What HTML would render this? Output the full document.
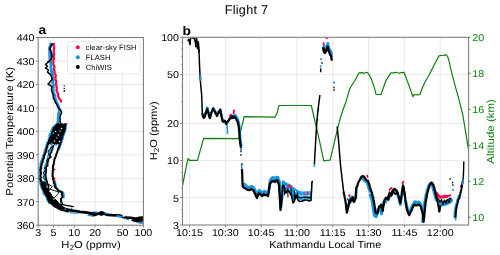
<!DOCTYPE html>
<html><head><meta charset="utf-8"><style>
html,body{margin:0;padding:0;background:#fff;width:500px;height:255px;overflow:hidden;font-family:"Liberation Sans",sans-serif;}
svg{display:block;will-change:transform;text-rendering:geometricPrecision}
</style></head><body>
<svg width="500" height="255" viewBox="0 0 500 255"><line x1="53.5" y1="37.5" x2="53.5" y2="225.2" stroke="#e6e6e6" stroke-width="0.9"/>
<line x1="74.3" y1="37.5" x2="74.3" y2="225.2" stroke="#e6e6e6" stroke-width="0.9"/>
<line x1="95.1" y1="37.5" x2="95.1" y2="225.2" stroke="#e6e6e6" stroke-width="0.9"/>
<line x1="122.6" y1="37.5" x2="122.6" y2="225.2" stroke="#e6e6e6" stroke-width="0.9"/>
<line x1="38.2" y1="201.7" x2="143.4" y2="201.7" stroke="#e6e6e6" stroke-width="0.9"/>
<line x1="38.2" y1="178.3" x2="143.4" y2="178.3" stroke="#e6e6e6" stroke-width="0.9"/>
<line x1="38.2" y1="154.8" x2="143.4" y2="154.8" stroke="#e6e6e6" stroke-width="0.9"/>
<line x1="38.2" y1="131.3" x2="143.4" y2="131.3" stroke="#e6e6e6" stroke-width="0.9"/>
<line x1="38.2" y1="107.9" x2="143.4" y2="107.9" stroke="#e6e6e6" stroke-width="0.9"/>
<line x1="38.2" y1="84.4" x2="143.4" y2="84.4" stroke="#e6e6e6" stroke-width="0.9"/>
<line x1="38.2" y1="61.0" x2="143.4" y2="61.0" stroke="#e6e6e6" stroke-width="0.9"/>
<line x1="189.5" y1="37.3" x2="189.5" y2="225.0" stroke="#e6e6e6" stroke-width="0.9"/>
<line x1="225.3" y1="37.3" x2="225.3" y2="225.0" stroke="#e6e6e6" stroke-width="0.9"/>
<line x1="261.1" y1="37.3" x2="261.1" y2="225.0" stroke="#e6e6e6" stroke-width="0.9"/>
<line x1="296.9" y1="37.3" x2="296.9" y2="225.0" stroke="#e6e6e6" stroke-width="0.9"/>
<line x1="332.8" y1="37.3" x2="332.8" y2="225.0" stroke="#e6e6e6" stroke-width="0.9"/>
<line x1="368.6" y1="37.3" x2="368.6" y2="225.0" stroke="#e6e6e6" stroke-width="0.9"/>
<line x1="404.4" y1="37.3" x2="404.4" y2="225.0" stroke="#e6e6e6" stroke-width="0.9"/>
<line x1="440.2" y1="37.3" x2="440.2" y2="225.0" stroke="#e6e6e6" stroke-width="0.9"/>
<line x1="182.5" y1="197.7" x2="468.6" y2="197.7" stroke="#e6e6e6" stroke-width="0.9"/>
<line x1="182.5" y1="160.6" x2="468.6" y2="160.6" stroke="#e6e6e6" stroke-width="0.9"/>
<line x1="182.5" y1="123.5" x2="468.6" y2="123.5" stroke="#e6e6e6" stroke-width="0.9"/>
<line x1="182.5" y1="74.4" x2="468.6" y2="74.4" stroke="#e6e6e6" stroke-width="0.9"/>
<defs><clipPath id="cl"><rect x="38.20" y="37.50" width="105.20" height="187.70"/></clipPath><clipPath id="cr"><rect x="182.50" y="37.30" width="286.10" height="187.70"/></clipPath></defs><g clip-path="url(#cl)">
<polyline points="54.0,44.0 53.7,45.5 54.2,47.0 54.1,48.5 53.8,50.0 53.7,51.5 54.0,53.0 54.1,54.5 53.8,56.0 54.1,57.5 54.0,59.0 53.1,60.5 53.6,62.0 52.8,63.5 53.6,65.0 54.4,66.5 54.2,68.0 54.0,69.5 54.6,71.0 54.4,72.5 55.0,74.0 55.9,75.5 55.3,77.0 55.4,78.5 55.6,80.0 56.3,81.5 56.0,83.0 56.2,84.5 56.4,86.0 56.8,87.5 56.8,89.0 56.4,90.5 57.2,92.0 57.7,93.3 58.3,94.7 58.0,96.0 58.8,97.5 59.5,99.0 60.6,100.2 61.0,101.5" fill="none" stroke="#f50c4c" stroke-width="2.30" stroke-linejoin="round" stroke-linecap="round" />
<polyline points="50.8,44.0 50.5,45.5 49.8,47.0 49.2,48.5 49.6,50.0 49.9,51.5 49.6,53.0 49.8,54.5 49.8,56.0 49.8,57.5 50.2,59.0 49.8,60.5 50.6,62.0 51.1,63.5 50.8,65.0 50.9,66.5 51.0,68.0 51.4,69.5 51.3,71.0 52.1,72.5 52.0,74.0 52.4,75.3 52.8,76.7 52.5,78.0 52.5,79.3 53.1,80.7 52.8,82.0 52.8,83.3 53.5,84.7 53.0,86.0 53.6,87.3 52.7,88.7 53.3,90.0 53.1,91.3 53.4,92.7 54.0,94.0 55.0,95.5 54.8,97.0 55.2,98.3 55.9,99.7 56.2,101.0 56.6,102.5 57.5,104.0 58.0,105.3 58.4,106.7 59.0,108.0 59.1,109.5 59.5,111.0 59.1,112.5 58.5,114.0 58.4,115.3 58.7,116.7 58.0,118.0 58.2,119.3 58.4,120.7 57.8,122.0 58.2,123.3 58.4,124.7 57.8,126.0" fill="none" stroke="#1597df" stroke-width="2.90" stroke-linejoin="round" stroke-linecap="round" />
<polyline points="52.2,44.0 51.6,45.2 50.8,46.5 50.2,48.0 50.0,49.5 50.7,50.8 51.0,52.0 51.6,53.5 51.7,55.0 52.0,56.5 51.8,58.0 50.5,60.0 49.3,61.0 48.0,62.0" fill="none" stroke="#000" stroke-width="1.80" stroke-linejoin="round" stroke-linecap="round" />
<polyline points="48.0,62.0 46.9,63.2 45.5,64.5 46.3,65.2 47.5,66.0 46.8,67.0 45.5,68.0 46.6,68.7 47.3,69.3 48.5,70.0 47.5,72.0 48.4,73.0 50.0,74.0 51.0,75.5 51.5,77.0 52.1,78.5 52.0,80.0 50.7,81.0 50.0,82.0 49.2,83.0 48.0,84.0 49.2,84.8 50.5,85.5 52.0,87.0 51.5,88.5 51.5,90.0 51.8,91.5 52.5,93.0 52.9,94.3 53.3,95.7 53.2,97.0 53.4,98.3 54.5,99.7 55.0,101.0 55.4,102.5 56.5,104.0 57.3,105.5 57.8,107.0 58.8,108.2 60.0,109.5 61.1,110.8 61.5,112.0 61.4,113.5 60.5,115.0 60.2,116.5 59.8,118.0 60.3,119.5 60.0,121.0 60.3,122.2 61.0,123.5" fill="none" stroke="#000" stroke-width="1.50" stroke-linejoin="round" stroke-linecap="round" />
<polyline points="56.6,124.0 55.2,124.9 55.0,125.8 53.4,126.8 52.7,127.7 52.2,128.6 51.6,130.1 51.3,131.5 50.6,133.0 49.8,134.2 49.2,135.5 49.8,136.7 48.7,138.0 48.5,139.2 48.6,140.4 48.1,141.6 47.0,142.8 46.7,144.0 46.3,145.2 46.0,146.3 45.8,147.5 45.4,148.6 44.9,149.8 44.5,151.1 44.2,152.4 44.2,153.7 43.2,155.0 42.8,156.3 42.3,157.7 42.2,159.1 41.5,160.4 40.8,161.9 40.4,163.5 40.2,165.0 40.6,166.2 39.8,167.4 39.7,168.6 38.8,169.8 39.2,171.0 39.1,172.2 39.2,173.5 38.5,174.8 39.1,176.0 39.4,177.4 39.6,178.8 39.0,180.2 39.7,181.6 40.2,182.9 40.4,184.3 41.0,185.7 41.2,187.0 41.5,188.3 42.4,189.6 43.0,190.9 43.2,192.2 43.4,193.4 44.2,194.6 45.7,195.8 46.2,197.0 47.3,198.2 46.9,199.3 47.6,200.5 48.3,201.6 48.7,202.8" fill="none" stroke="#1597df" stroke-width="1.80" stroke-linejoin="round" stroke-linecap="round" />
<polyline points="66.6,124.0 66.3,125.5 66.1,127.1 66.1,128.6 65.4,130.1 65.0,131.5 64.6,133.0 64.3,134.2 63.6,135.5 63.3,136.7 63.3,138.0 62.6,139.2 61.8,140.4 61.9,141.6 61.7,142.8 61.1,144.0 60.5,145.2 60.0,146.3 60.2,147.5 59.2,148.6 59.1,149.8" fill="none" stroke="#1597df" stroke-width="1.60" stroke-linejoin="round" stroke-linecap="round" />
<polyline points="55.3,182.1 55.2,183.4 55.7,184.8 56.2,186.2 56.3,187.5 56.9,188.7 58.2,189.8 59.4,191.0 60.5,191.6 62.3,192.1 63.3,192.7 63.4,193.9 63.9,195.1 63.3,196.3 63.8,197.5" fill="none" stroke="#1597df" stroke-width="2.00" stroke-linejoin="round" stroke-linecap="round" />
<polyline points="54.0,139.0 53.4,140.2 53.3,141.5 53.2,142.8 52.3,144.0 51.9,145.2 51.3,146.4 50.8,147.6 50.9,148.8 50.5,150.0 49.7,151.2 50.0,152.5 49.6,153.8 48.7,155.0 47.9,156.3 47.5,157.7 47.7,159.1 46.9,160.4 46.7,161.6 46.6,162.7 45.7,163.8 45.5,165.0 44.9,166.2 44.9,167.4 45.3,168.6 44.4,169.8 44.5,171.0 44.3,172.2 44.3,173.5 44.3,174.8 44.3,176.0 44.5,177.4 45.4,178.8 44.8,180.2 45.5,181.6 45.3,182.9 46.8,184.3 47.1,185.7 47.0,187.0 47.7,188.2 47.2,189.5 47.9,190.8 47.5,192.0 48.6,193.2 48.4,194.5 49.7,195.8 50.0,197.0 51.3,198.0 51.9,199.0 52.6,200.0 53.5,201.0 54.4,202.0 55.6,203.0 57.0,204.0 57.8,205.0 58.8,206.0 60.5,207.0" fill="none" stroke="#1597df" stroke-width="1.60" stroke-linejoin="round" stroke-linecap="round" />
<polygon points="58.0,124.0 53.6,128.6 52.0,133.0 49.9,139.2 48.1,144.0 59.9,144.0 61.4,139.2 63.4,133.0 64.9,128.6 65.4,124.0" fill="#000" stroke="#000" stroke-width="0.8" stroke-linejoin="round"/>
<polygon points="41.1,181.6 42.6,187.0 44.6,192.2 47.6,197.0 50.1,202.8 53.5,205.5 57.5,208.0 62.0,210.0 60.0,207.0 59.0,203.0 56.0,200.0 52.0,196.0 49.0,191.0 46.5,186.0 45.0,182.0" fill="#000" stroke="#000" stroke-width="0.8" stroke-linejoin="round"/>
<polyline points="58.0,124.0 57.2,124.9 56.0,125.8 55.7,126.8 54.0,127.7 53.6,128.6 53.5,130.1 52.7,131.5 52.0,133.0 52.0,134.2 51.6,135.5 51.1,136.7 50.4,138.0 49.9,139.2 49.0,140.4 49.2,141.6 48.2,142.8 48.1,144.0 47.5,145.2 47.5,146.3 47.0,147.5 46.6,148.6 46.3,149.8 46.3,151.1 45.6,152.4 44.9,153.7 44.6,155.0 43.9,156.3 44.1,157.7 43.3,159.1 42.9,160.4 42.7,161.9 41.9,163.5 41.6,165.0 41.1,166.2 41.2,167.4 41.3,168.6 40.5,169.8 40.6,171.0 40.9,172.2 41.0,173.5 40.8,174.8 40.5,176.0 41.0,177.4 40.3,178.8 41.1,180.2 41.1,181.6 41.8,182.9 41.4,184.3 42.0,185.7 42.6,187.0 42.9,188.3 43.6,189.6 44.0,190.9 44.6,192.2 45.3,193.4 46.4,194.6 46.4,195.8 47.6,197.0 47.7,198.2 48.2,199.3 48.7,200.5 49.2,201.6 50.1,202.8 51.7,203.7 52.7,204.6 53.5,205.5 54.4,206.3 56.2,207.2 57.5,208.0 58.4,208.5 59.6,209.0 60.7,209.5 62.0,210.0 63.3,210.3 64.5,210.6 65.5,210.9 66.5,211.2 68.0,211.5" fill="none" stroke="#000" stroke-width="2.00" stroke-linejoin="round" stroke-linecap="round" />
<polyline points="65.4,124.0 65.1,125.5 64.7,127.1 64.9,128.6 64.5,130.1 64.1,131.5 63.4,133.0 62.9,134.2 62.2,135.5 61.9,136.7 61.7,138.0 61.4,139.2 61.1,140.4 60.9,141.6 60.2,142.8 59.9,144.0 59.8,145.2 59.2,146.3 58.6,147.5 58.2,148.6 57.9,149.8 57.4,151.1 57.2,152.4 56.5,153.7 56.1,155.0 55.8,156.3 55.2,157.7 54.5,159.1 54.3,160.4 54.0,161.9 53.9,163.5 53.4,165.0 52.8,166.2 53.0,167.4 52.8,168.6 53.1,169.8 52.6,171.0 53.0,172.2 52.4,173.5 52.8,174.8 52.4,176.0 53.1,177.4 52.9,178.8 53.5,180.2 53.9,181.6 53.8,182.9 54.7,184.3 54.8,185.7 54.9,187.0 56.3,188.2 57.3,189.3 58.0,190.5 59.5,191.1 60.8,191.6 61.9,192.2 62.1,193.4 61.8,194.6 62.4,195.8 62.4,197.0 61.2,198.5 61.0,200.0 61.1,201.5 62.0,203.0 61.8,204.5 61.0,206.0 60.0,207.5 60.0,209.0" fill="none" stroke="#000" stroke-width="2.00" stroke-linejoin="round" stroke-linecap="round" />
<polyline points="61.0,125.0 59.9,126.3 59.3,127.7 59.0,129.0 58.9,130.3 57.7,131.7 57.5,133.0 56.6,134.2 57.0,135.4 55.9,136.6 56.2,137.8 55.5,139.0 55.2,140.2 55.0,141.5 54.7,142.8 53.8,144.0 53.5,145.2 53.4,146.4 52.3,147.6 52.6,148.8 52.0,150.0 51.6,151.2 51.3,152.5 50.3,153.8 50.2,155.0 50.0,156.3 49.7,157.7 48.4,159.1 48.4,160.4 47.9,161.6 47.8,162.7 47.7,163.8 47.0,165.0 46.5,166.2 46.3,167.4 46.1,168.6 46.3,169.8 46.0,171.0 46.2,172.2 45.8,173.5 45.7,174.8 45.8,176.0 46.0,177.4 46.3,178.8 46.6,180.2 47.0,181.6 47.0,182.9 47.8,184.3 48.6,185.7 48.5,187.0 48.5,188.2 49.0,189.5 48.5,190.8 49.0,192.0 49.8,193.2 50.5,194.5 51.0,195.8 51.5,197.0 52.4,198.0 53.2,199.0 54.3,200.0 55.0,201.0 56.6,202.0 57.0,203.0 58.5,204.0 59.3,205.0 61.1,206.0 62.0,207.0 63.4,207.8 64.0,208.7 65.0,209.5" fill="none" stroke="#000" stroke-width="1.60" stroke-linejoin="round" stroke-linecap="round" />
<polyline points="52.4,147.0 48.8,149.8 48.2,152.1 48.5,154.7 51.7,156.9 46.6,160.1 47.1,162.9 48.3,165.9 43.9,168.2 46.5,170.1 43.0,172.5 44.5,174.9 42.8,177.8 47.1,181.0 47.6,183.6 52.3,186.6 49.9,189.2 58.8,192.1 57.6,194.5 54.6,197.6 52.0,199.8 57.9,202.7" fill="none" stroke="#000" stroke-width="0.90" stroke-linejoin="round" stroke-linecap="round" />
<circle cx="56.8" cy="138.0" r="0.9" fill="#1597df"/>
<circle cx="53.2" cy="133.0" r="0.9" fill="#1597df"/>
<circle cx="60.0" cy="131.0" r="0.9" fill="#1597df"/>
<circle cx="51.6" cy="143.5" r="0.9" fill="#1597df"/>
<circle cx="56.2" cy="145.0" r="0.9" fill="#1597df"/>
<circle cx="58.5" cy="135.0" r="0.75" fill="#fff"/>
<circle cx="54.5" cy="141.0" r="0.75" fill="#fff"/>
<circle cx="47.0" cy="187.0" r="0.75" fill="#fff"/>
<circle cx="50.0" cy="191.5" r="0.75" fill="#fff"/>
<circle cx="54.0" cy="199.0" r="0.75" fill="#fff"/>
<circle cx="61.5" cy="128.5" r="0.75" fill="#fff"/>
<circle cx="55.6" cy="131.5" r="0.75" fill="#fff"/>
<circle cx="59.5" cy="141.5" r="0.75" fill="#fff"/>
<circle cx="53.0" cy="144.5" r="0.75" fill="#fff"/>
<polyline points="60.0,204.2 63.0,204.6 66.0,205.3 69.5,205.8 73.2,206.6" fill="none" stroke="#000" stroke-width="1.30" stroke-linejoin="round" stroke-linecap="round" />
<polyline points="62.5,208.3 66.0,209.0 69.0,209.4 72.0,210.0" fill="none" stroke="#000" stroke-width="1.50" stroke-linejoin="round" stroke-linecap="round" />
<polyline points="61.0,207.0 64.0,208.5 68.0,209.8 72.0,210.7 76.0,211.2 80.0,211.8 85.0,212.4 90.0,213.2 95.0,214.0 100.0,213.5 104.0,213.6 108.0,214.8 112.0,215.2 116.0,215.4 120.0,215.6 121.5,216.2" fill="none" stroke="#000" stroke-width="2.80" stroke-linejoin="round" stroke-linecap="round" />
<polyline points="121.5,216.4 122.5,217.4 126.0,217.8 130.0,218.2 134.0,218.8 138.0,219.6 141.0,220.0 143.4,219.8" fill="none" stroke="#000" stroke-width="1.80" stroke-linejoin="round" stroke-linecap="round" />
<ellipse cx="93" cy="214.2" rx="4.2" ry="2.2" fill="#000"/>
<ellipse cx="101.6" cy="213.4" rx="2.6" ry="2.3" fill="#000"/>
<polygon points="132.5,219.4 135,217.8 138,216.8 141,216.2 143.4,216.2 143.4,222.6 140.5,222.9 136,222.2 133,221.4 131,220.6" fill="#000"/>
<polyline points="125.0,216.8 131.0,217.2 137.0,218.4" fill="none" stroke="#000" stroke-width="1.20" stroke-linejoin="round" stroke-linecap="round" />
<polyline points="70.0,212.9 78.0,213.2" fill="none" stroke="#1597df" stroke-width="1.10" stroke-linejoin="round" stroke-linecap="round" />
<polyline points="88.0,215.4 92.0,215.7" fill="none" stroke="#1597df" stroke-width="1.20" stroke-linejoin="round" stroke-linecap="round" />
<polyline points="93.5,211.9 97.0,212.1" fill="none" stroke="#1597df" stroke-width="1.10" stroke-linejoin="round" stroke-linecap="round" />
<polyline points="117.0,216.2 119.5,216.5 121.8,216.9" fill="none" stroke="#1597df" stroke-width="1.90" stroke-linejoin="round" stroke-linecap="round" />
<polyline points="105.0,213.1 109.0,213.6" fill="none" stroke="#1597df" stroke-width="1.10" stroke-linejoin="round" stroke-linecap="round" />
<polyline points="139.2,222.8 142.0,223.0" fill="none" stroke="#1597df" stroke-width="1.90" stroke-linejoin="round" stroke-linecap="round" />
<polyline points="126.0,219.3 129.0,219.8" fill="none" stroke="#1597df" stroke-width="1.00" stroke-linejoin="round" stroke-linecap="round" />
<circle cx="61.0" cy="203.0" r="0.9" fill="#1597df"/>
<circle cx="71.4" cy="208.4" r="0.9" fill="#1597df"/>
<circle cx="65.3" cy="209.2" r="0.9" fill="#1597df"/>
<circle cx="66.5" cy="124.0" r="0.9" fill="#f50c4c"/>
<circle cx="54.6" cy="169.5" r="0.9" fill="#f50c4c"/>
<circle cx="54.6" cy="178.5" r="0.9" fill="#f50c4c"/>
<circle cx="54.6" cy="180.0" r="0.9" fill="#f50c4c"/>
<circle cx="142.6" cy="221.5" r="0.9" fill="#f50c4c"/>
<circle cx="61.2" cy="101.5" r="0.9" fill="#f50c4c"/>
<rect x="63.6" y="85.05" width="1.3" height="1.50" fill="#000" fill-opacity="0.70"/>
<rect x="63.6" y="87.85" width="1.3" height="1.10" fill="#000" fill-opacity="1.00"/>
<rect x="63.6" y="90.10" width="1.3" height="1.80" fill="#000" fill-opacity="1.00"/>
</g>
<g clip-path="url(#cr)">
<polyline points="182.3,186.8 185.0,172.8 188.0,158.6 189.5,160.4 197.4,160.4 198.6,156.3 203.6,138.3 238.8,138.7 242.8,122.3 244.2,116.6 275.0,117.1 277.0,113.3 279.0,105.5 311.3,105.5 318.3,135.3 323.8,160.9 327.0,160.3 330.1,160.1 337.2,130.3 340.0,119.3 342.8,110.3 345.5,103.3 347.5,96.3 349.5,89.3 351.5,85.8 355.0,80.3 359.0,72.8 362.0,72.6 364.0,73.3 366.5,72.3 368.0,73.1 371.0,78.3 374.0,86.3 376.0,94.3 381.0,94.5 386.0,80.3 391.0,72.9 394.0,72.8 396.0,72.3 399.0,73.3 401.0,72.6 404.0,72.3 407.0,80.3 410.0,88.3 413.0,96.8 414.0,94.5 417.0,94.8 420.0,94.3 423.0,86.3 426.0,80.3 429.0,75.3 434.0,65.3 439.0,55.9 441.0,55.3 443.0,55.5 445.0,54.9 446.5,55.2 447.8,56.8 449.0,60.8 451.0,69.8 455.0,85.3 458.8,98.9 462.7,114.3 464.7,126.3 466.6,137.8 468.6,150.3" fill="none" stroke="#0f800f" stroke-width="1.2" stroke-linejoin="round"/>
<polyline points="203.3,114.8 204.3,115.8 204.8,114.4 205.3,113.0 205.8,112.3 206.2,111.4 206.5,109.6 206.9,109.0 207.2,107.7 207.6,106.8" fill="none" stroke="#1597df" stroke-width="2.6" stroke-linejoin="round"/>
<polyline points="207.6,108.4 207.8,108.9 208.1,110.4 208.3,110.8 208.6,112.3 208.8,112.9 209.1,113.9 209.3,115.4 209.8,116.3 210.3,117.4 210.6,116.8 210.8,114.9 211.1,114.1 211.3,113.4 211.7,112.5 212.1,111.7 212.5,110.2 212.9,108.9 213.3,107.9 213.8,109.3 214.3,109.1 214.8,111.0 215.3,111.4 215.8,112.1 216.2,113.0 216.7,113.9 217.1,115.4 217.6,114.1 218.0,113.7 218.5,111.9 218.9,111.2 219.7,110.3 220.5,109.2 220.7,110.4 220.9,111.1 221.1,112.4 221.3,113.4 221.5,114.0 221.8,115.2 222.0,116.5 222.3,118.3 222.5,119.2 222.9,120.1 223.3,121.2 224.9,120.4 225.4,121.1 226.0,122.4 226.5,123.2 227.2,122.2 227.8,121.1 228.5,120.4 229.1,119.8 229.7,118.4 231.3,117.6" fill="none" stroke="#1597df" stroke-width="2.0" stroke-linejoin="round"/>
<polyline points="232.6,114.6 233.4,116.4 234.2,115.9 235.0,115.0 235.8,115.9 236.6,117.4 237.2,118.5 237.8,119.4 238.1,120.4 238.4,121.9 238.6,122.7 238.9,123.4 239.0,124.1 239.1,126.0 239.2,125.9 239.4,127.3 239.5,128.7 239.6,129.0 239.7,130.4 239.8,131.4 239.8,131.8 239.9,133.6 240.0,134.7 240.0,135.5 240.1,136.9 240.1,137.2 240.2,138.4 240.4,139.6 240.5,140.5 240.7,141.5 240.8,142.3 241.0,143.8 241.1,144.9 241.2,145.4 241.4,146.4" fill="none" stroke="#1597df" stroke-width="2.6" stroke-linejoin="round"/>
<polyline points="242.9,183.4 243.7,184.3 244.5,184.2 245.3,185.4 246.3,186.3 247.3,186.9 248.3,187.4 249.3,187.7 250.3,187.1 251.3,186.4 252.3,186.6 253.3,187.4 253.8,188.2 254.3,189.4 254.8,189.5 255.3,191.0 255.8,192.1 256.3,192.8 256.8,193.8 257.3,195.4 257.7,193.9 258.1,193.7 258.5,192.0 258.9,191.1 259.3,190.4 260.1,191.0 260.8,192.3 261.6,192.1 262.3,193.4 263.3,192.3 264.3,191.4 265.3,192.0 266.3,192.4 267.3,193.4 268.3,193.4 268.5,192.8 268.6,191.8 268.8,190.1 269.0,189.3 269.1,188.2 269.3,187.4 269.4,186.9 269.6,185.9 269.7,184.0 269.9,183.0 270.0,182.1 270.2,181.1 270.3,180.4 271.3,179.4 272.3,178.4 273.3,178.8 274.3,178.8 275.3,179.4" fill="none" stroke="#1597df" stroke-width="3.0" stroke-linejoin="round"/>
<polyline points="277.3,177.0 277.7,177.4 278.1,178.9 278.5,179.8 278.9,181.1 279.3,182.0 279.4,183.5 279.4,184.2 279.5,185.0 279.6,186.1 279.6,187.2 279.7,187.5 279.8,189.5 279.8,190.3 279.9,191.4 280.0,192.4 280.0,192.9 280.1,193.9 280.2,194.5 280.2,196.2 280.3,197.0 280.4,197.5 280.4,198.5 280.4,199.7 280.5,200.6 280.6,201.8 280.6,202.5 280.7,203.4 280.7,204.6 280.8,205.5 280.8,207.0 280.9,205.8 281.0,204.4 281.1,204.4 281.2,203.1 281.3,201.6 281.4,200.7 281.5,199.8 281.6,198.8 281.7,197.5 281.8,197.4 281.9,196.6 282.0,195.0 282.1,194.0 282.2,192.5 282.3,192.0 282.4,190.5 282.5,189.8 282.6,188.7 282.7,188.4 282.8,186.6 282.9,185.4 283.0,185.5 283.1,184.0 283.2,182.6 283.3,182.0 283.8,183.1 284.3,184.0 284.6,184.4 285.0,186.0 285.3,187.6 285.6,188.4 286.0,189.2 286.3,190.0 287.0,188.7 287.6,187.8 288.3,187.0 289.0,187.6 289.6,189.3 290.3,190.0 290.8,191.0 291.3,192.3 291.8,192.8 292.3,194.0 292.5,194.7 292.6,196.4 292.8,197.6 293.0,198.4 293.1,199.4 293.3,200.0 294.3,199.0 294.6,198.4 294.9,197.3 295.2,195.7 295.4,195.0 295.7,193.8 296.0,192.4 296.3,192.0 296.7,192.4 297.1,193.7 297.5,194.7 297.9,196.2 298.3,197.0 299.3,198.3 300.3,198.5 301.3,198.1 302.3,198.4 303.3,198.2 304.3,197.8 305.3,197.0 306.3,197.1 307.3,197.2 308.3,197.4 309.3,198.0 310.3,197.4 311.3,197.5" fill="none" stroke="#1597df" stroke-width="3.2" stroke-linejoin="round"/>
<polyline points="323.8,44.5 323.9,45.1 324.1,46.6 324.2,48.0 324.3,48.5 325.3,49.5 325.7,48.8 326.2,47.3 326.6,46.5 327.0,45.6 327.5,43.7 327.9,43.1 328.2,44.4 328.5,45.8 328.7,46.7 329.0,47.7 329.3,48.5 329.8,49.5 330.3,50.1 330.8,51.8 331.3,52.5 331.5,53.5 331.7,55.2 331.9,56.6 332.1,57.2" fill="none" stroke="#1597df" stroke-width="2.4" stroke-linejoin="round"/>
<polyline points="347.1,210.8 347.3,209.7 347.6,208.7 347.8,208.3 348.1,207.1 348.3,205.4 348.6,204.4 348.8,203.8 349.1,202.2 349.4,201.9 349.7,200.6 350.0,199.1 350.6,197.9 351.2,197.9 351.8,196.7 352.4,198.2 353.0,198.6 353.5,199.1 354.1,200.2 354.7,199.1 355.3,197.4 355.9,196.7 356.0,195.1 356.0,195.3 356.1,193.9 356.1,192.7 356.2,192.2 356.3,190.6 356.3,190.1 356.4,189.1 356.4,187.4 356.5,186.7" fill="none" stroke="#1597df" stroke-width="2.6" stroke-linejoin="round"/>
<polyline points="359.9,179.3 361.0,178.3 362.2,177.8 363.0,178.6 363.8,179.6 364.6,180.9 365.8,181.8 366.9,182.5 367.2,183.2 367.5,184.5 367.8,185.4 368.2,186.0 368.5,188.0 368.9,188.3 369.2,189.4 369.5,190.5 369.9,191.9 370.2,192.4" fill="none" stroke="#1597df" stroke-width="2.6" stroke-linejoin="round"/>
<polyline points="370.0,193.6 370.3,194.5 370.6,196.2 370.9,196.7 371.2,197.8 371.5,198.8 371.8,199.8 372.0,200.3 372.2,201.9 372.4,202.7 372.6,203.5 372.7,205.5 372.9,205.9 373.1,207.3 373.3,208.7 373.5,209.5 373.6,210.6 373.8,211.4 374.0,212.6 374.1,213.7 374.2,215.0 374.4,215.7 375.3,215.7 376.2,216.6 376.4,215.7 376.7,214.3 376.9,213.3 377.2,212.9 377.4,211.5 377.7,210.6 377.9,209.5 378.8,208.9 379.7,207.7 380.0,209.2 380.3,209.7 380.6,210.9 380.9,211.8 381.2,212.9 381.5,213.9 381.7,213.1 381.8,211.7 382.0,210.8 382.2,209.6 382.4,209.1 382.5,207.8 382.7,206.9 382.9,206.0 383.0,204.1 383.2,203.3 383.8,202.5 384.4,202.1 385.0,200.7 385.9,202.0 386.8,202.4" fill="none" stroke="#1597df" stroke-width="3.0" stroke-linejoin="round"/>
<polyline points="388.0,201.2 388.4,199.7 388.9,198.5 389.3,197.8 389.7,196.8 390.6,195.4 391.5,195.1 391.9,193.9 392.4,192.8 392.9,192.6 393.3,191.5 395.0,190.6 395.9,191.8 396.8,192.4 397.2,193.9 397.5,194.1 397.9,195.8 398.2,196.8 398.6,197.7 398.8,198.3 399.1,200.2 399.3,201.3 399.6,201.4 399.8,203.3 400.1,203.7 400.3,204.8 400.5,203.7 400.7,203.3 400.8,202.0 401.0,200.2 401.2,199.5 401.3,198.4 401.5,197.5 401.6,196.2 401.8,195.0 401.9,194.1 402.1,193.6 402.2,191.7 402.4,191.3 402.6,190.1 402.7,188.6 402.9,187.9 403.0,187.1 403.2,188.3 403.4,189.3 403.7,189.9 403.9,192.1 404.1,192.9 404.4,194.3 404.6,194.3 404.8,195.9" fill="none" stroke="#1597df" stroke-width="2.6" stroke-linejoin="round"/>
<polyline points="405.6,200.2 405.8,200.9 406.1,201.6 406.3,203.5 406.5,203.9 406.7,204.7 406.9,206.0 407.2,207.6 407.4,208.1 407.8,209.6 408.3,210.0 408.8,211.0 409.2,212.5 409.8,211.8 410.3,210.3 410.9,209.0 411.4,208.1 411.9,206.3 412.3,205.2 412.8,204.6 413.5,203.8 414.1,202.5 414.8,201.6 415.8,201.6 416.8,202.6 417.8,202.6 418.7,201.6 419.7,202.8 420.7,203.6 421.0,204.9 421.2,205.0 421.5,206.9 421.8,207.0 422.1,208.9 422.3,209.4 422.6,210.4" fill="none" stroke="#1597df" stroke-width="2.6" stroke-linejoin="round"/>
<polyline points="422.4,222.5 422.5,221.2 422.6,220.4 422.7,219.8 422.8,217.9 423.0,216.7 423.1,216.1 423.2,214.6 423.3,213.4 423.4,212.8 423.5,211.3 423.6,210.1 423.7,209.2 423.8,208.2 424.0,207.1 424.1,206.6 424.2,204.9 424.3,204.1 424.4,203.0 424.6,201.6 424.8,200.8 425.0,199.5 425.2,198.7 425.4,197.5 425.5,197.3 425.7,196.1 425.9,194.7 426.1,194.1 426.3,193.1 426.6,192.7 426.9,190.7 427.2,190.6 427.4,189.1 427.7,188.2 428.0,187.7 428.3,186.3 429.0,185.2 429.6,184.3 430.3,183.3 431.2,184.5 432.2,185.3 432.4,186.9 432.7,187.1 432.9,188.6 433.2,189.4 433.4,190.3 433.7,191.0 433.9,191.9 434.2,193.1 434.4,193.6 434.7,194.6 434.9,195.5 435.2,197.3 435.4,197.7 435.7,198.6 435.9,199.5 436.2,201.0" fill="none" stroke="#1597df" stroke-width="2.6" stroke-linejoin="round"/>
<polyline points="454.6,218.1 454.7,217.4 454.7,216.3 454.8,214.9 454.8,213.6 454.9,212.3 455.0,211.3 455.2,210.4 455.3,209.6 455.4,208.6 455.6,207.2 455.8,206.5 456.1,205.3 456.3,205.2 456.5,203.6 456.9,203.0 457.2,201.4 457.6,199.9 458.0,199.1 458.3,198.7 458.6,196.9 458.9,195.9 459.2,195.1" fill="none" stroke="#1597df" stroke-width="2.4" stroke-linejoin="round"/>
<polygon points="283,184 285,182 287,183 290,184 293,186.5 296,189 299.5,191 300,194 297,194 293,192.5 289,191.5 285,190.5 283.2,189" fill="#1597df"/>
<polygon points="299,191 303,191.4 307,191.2 311,191.2 311.3,195 307,195.3 303,195.5 299.5,195.5" fill="#1597df"/>
<polygon points="269.6,180 270.5,177.2 272.5,176 275,176.6 277,175.4 278.6,177 279.2,182 270.5,182.5" fill="#1597df"/>
<polyline points="227,124 227.3,129 227.5,134" fill="none" stroke="#1597df" stroke-width="1.6"/>
<polyline points="241.6,164 241.8,170" fill="none" stroke="#1597df" stroke-width="1.6"/>
<polyline points="318.5,108 318.2,111.5" fill="none" stroke="#1597df" stroke-width="1.5"/>
<polyline points="317.6,119 317.4,121" fill="none" stroke="#1597df" stroke-width="1.5"/>
<polyline points="314.6,163 314.4,167" fill="none" stroke="#1597df" stroke-width="1.5"/>
<circle cx="241.0" cy="149.3" r="1.1" fill="#1597df"/>
<circle cx="321.0" cy="59.0" r="1.1" fill="#1597df"/>
<circle cx="320.7" cy="66.3" r="1.1" fill="#1597df"/>
<circle cx="334.0" cy="82.7" r="1.1" fill="#1597df"/>
<circle cx="453.0" cy="190.0" r="1.1" fill="#1597df"/>
<circle cx="451.0" cy="198.5" r="1.1" fill="#1597df"/>
<circle cx="200.5" cy="76.5" r="1.1" fill="#1597df"/>
<circle cx="200.6" cy="78.5" r="1.1" fill="#1597df"/>
<polyline points="438,202 441,205 444,204.5 447,203.5 451,201" fill="none" stroke="#1597df" stroke-width="3.2"/>
<polyline points="229.8,116.5 231.0,114.5" fill="none" stroke="#f50c4c" stroke-width="2.0" stroke-linejoin="round" stroke-linecap="round"/>
<polyline points="233.6,113.0 234.0,110.5" fill="none" stroke="#f50c4c" stroke-width="2.0" stroke-linejoin="round" stroke-linecap="round"/>
<polyline points="287.8,186.8 289.0,185.6 290.6,186.0 291.2,187.4" fill="none" stroke="#f50c4c" stroke-width="1.9" stroke-linejoin="round" stroke-linecap="round"/>
<polyline points="305.5,193.4 307.3,193.4" fill="none" stroke="#f50c4c" stroke-width="1.8" stroke-linejoin="round" stroke-linecap="round"/>
<polyline points="323.5,44.5 323.9,43.0" fill="none" stroke="#f50c4c" stroke-width="1.8" stroke-linejoin="round" stroke-linecap="round"/>
<polyline points="326.7,38.2 327.0,37.6" fill="none" stroke="#f50c4c" stroke-width="2.0" stroke-linejoin="round" stroke-linecap="round"/>
<polyline points="349.0,196.0 349.5,195.0" fill="none" stroke="#f50c4c" stroke-width="1.8" stroke-linejoin="round" stroke-linecap="round"/>
<polyline points="367.0,175.5 367.6,177.0" fill="none" stroke="#f50c4c" stroke-width="1.8" stroke-linejoin="round" stroke-linecap="round"/>
<polyline points="389.8,189.5 391.5,188.0" fill="none" stroke="#f50c4c" stroke-width="2.2" stroke-linejoin="round" stroke-linecap="round"/>
<polyline points="402.6,183.2 403.3,181.8" fill="none" stroke="#f50c4c" stroke-width="2.0" stroke-linejoin="round" stroke-linecap="round"/>
<polyline points="431.3,182.4 432.6,182.6" fill="none" stroke="#f50c4c" stroke-width="1.6" stroke-linejoin="round" stroke-linecap="round"/>
<polyline points="435.6,192.6 438.0,195.5 440.3,197.2 442.5,197.0 444.2,196.4 446.5,196.4" fill="none" stroke="#f50c4c" stroke-width="3.2" stroke-linejoin="round" stroke-linecap="round"/>
<polyline points="447.0,196.2 450.3,195.2" fill="none" stroke="#f50c4c" stroke-width="2.0" stroke-linejoin="round" stroke-linecap="round"/>
<polyline points="460.9,186.8 461.3,185.5" fill="none" stroke="#f50c4c" stroke-width="1.8" stroke-linejoin="round" stroke-linecap="round"/>
<polyline points="188.2,40.2 188.9,39.4 189.6,42.0 190.1,44.2" fill="none" stroke="#000" stroke-width="1.9" stroke-linejoin="round" stroke-linecap="round"/>
<polyline points="190.2,43.0 190.8,37.8" fill="none" stroke="#000" stroke-width="1.2" stroke-linejoin="round" stroke-linecap="round"/>
<polyline points="192.3,37.9 193.6,37.9 194.6,38.8" fill="none" stroke="#000" stroke-width="1.7" stroke-linejoin="round" stroke-linecap="round"/>
<polyline points="194.6,38.6 195.4,42.0 196.0,46.6" fill="none" stroke="#000" stroke-width="1.7" stroke-linejoin="round" stroke-linecap="round"/>
<polyline points="196.5,38.2 197.0,42.5 197.6,48.6" fill="none" stroke="#000" stroke-width="1.7" stroke-linejoin="round" stroke-linecap="round"/>
<polyline points="198.2,41.8 198.7,46.0 199.1,52.0" fill="none" stroke="#000" stroke-width="1.6" stroke-linejoin="round" stroke-linecap="round"/>
<polyline points="198.8,49.6 199.2,56.0 199.5,65.0 200.0,74.5 200.3,80.0 201.0,88.0 201.6,94.0 202.0,104.0 202.3,113.0" fill="none" stroke="#000" stroke-width="1.50" stroke-linejoin="round" stroke-linecap="round" />
<polyline points="337.2,127.0 338.5,140.0 340.5,165.0 343.6,191.7" fill="none" stroke="#000" stroke-width="1.50" stroke-linejoin="round" stroke-linecap="round" />
<polyline points="462.8,181.0 463.3,177.0 463.6,170.0 463.8,162.0" fill="none" stroke="#000" stroke-width="1.40" stroke-linejoin="round" stroke-linecap="round" />
<polyline points="455.6,218.2 455.7,219.6" fill="none" stroke="#1597df" stroke-width="1.80" stroke-linejoin="round" stroke-linecap="round" />
<polyline points="282.0,195.0 282.1,193.5 282.2,192.9 282.3,192.0 282.4,191.0 282.5,189.7 282.6,189.0 282.7,187.5 282.8,186.8 282.9,185.6 283.0,185.0 283.5,185.9 284.0,187.0 284.3,187.5 284.7,188.5 285.0,189.8 285.3,190.7 285.7,192.1 286.0,193.0 286.7,192.0 287.3,191.3 288.0,190.0 288.7,191.2 289.3,192.2 290.0,193.0 290.5,194.4 291.0,194.9 291.5,195.8 292.0,197.0 292.2,198.5 292.3,198.6 292.5,200.2 292.7,201.1 292.8,201.5 293.0,203.0 294.0,202.0 294.3,201.3 294.6,200.4 294.9,199.1 295.1,198.2 295.4,197.3 295.7,195.6 296.0,195.0 296.4,196.0 296.8,197.0 297.2,198.3 297.6,199.3 298.0,200.0 299.0,201.1 300.0,201.5 301.0,201.3 302.0,201.3 303.0,200.8 304.0,200.5 305.0,200.0 306.0,200.0 307.0,200.0 308.0,200.4 309.0,201.0 310.0,200.6 311.0,200.5 311.1,199.1 311.1,198.8 311.2,197.5 311.2,196.5 311.3,195.5 311.3,194.5 311.4,193.3 311.4,191.8 311.5,191.5 311.6,190.5 311.6,189.2 311.7,188.2 311.7,187.3 311.8,185.7 311.8,185.3 311.9,183.8 311.9,182.6 312.0,182.0" fill="none" stroke="#000" stroke-width="1.60" stroke-linejoin="round" stroke-linecap="round" />
<polyline points="284.2,186.0 284.6,195.0" fill="none" stroke="#000" stroke-width="1.00" stroke-linejoin="round" stroke-linecap="round" />
<polyline points="287.6,189.0 288.0,197.0" fill="none" stroke="#000" stroke-width="1.00" stroke-linejoin="round" stroke-linecap="round" />
<polyline points="291.0,188.5 291.4,196.0" fill="none" stroke="#000" stroke-width="1.00" stroke-linejoin="round" stroke-linecap="round" />
<polyline points="294.2,191.0 294.4,200.0" fill="none" stroke="#000" stroke-width="1.00" stroke-linejoin="round" stroke-linecap="round" />
<polyline points="297.5,193.0 297.8,198.5" fill="none" stroke="#000" stroke-width="1.00" stroke-linejoin="round" stroke-linecap="round" />
<circle cx="286.0" cy="186.5" r="0.6" fill="#fff"/>
<circle cx="289.5" cy="189.5" r="0.6" fill="#fff"/>
<circle cx="295.5" cy="191.5" r="0.6" fill="#fff"/>
<circle cx="302.0" cy="193.0" r="0.6" fill="#fff"/>
<circle cx="306.0" cy="193.2" r="0.6" fill="#fff"/>
<circle cx="309.5" cy="193.0" r="0.6" fill="#fff"/>
<polyline points="202.3,113.0 202.5,113.7 202.7,115.3 202.8,115.6 203.0,117.0 204.0,118.0 204.5,117.2 205.0,116.3 205.5,114.5 205.9,113.4 206.2,112.1 206.6,111.2 206.9,110.4 207.3,109.0 207.5,110.4 207.8,111.2 208.0,112.2 208.3,112.4 208.5,113.5 208.8,114.7 209.0,116.0 209.5,117.3 210.0,118.0 210.2,116.7 210.5,116.1 210.8,114.3 211.0,114.0 211.4,112.3 211.8,111.5 212.2,110.9 212.6,109.9 213.0,108.5 213.5,109.6 214.0,110.0 214.5,111.1 215.0,112.0 215.4,113.0 215.9,114.0 216.4,114.5 216.8,116.0 217.2,115.5 217.7,113.5 218.2,113.5 218.6,111.8 219.4,111.4 220.2,109.8 220.4,110.2 220.6,111.8 220.8,113.4 221.0,114.0 221.2,115.8 221.5,116.2 221.7,117.2 222.0,118.2 222.2,119.8 222.6,121.4 223.0,121.8 224.6,121.0 225.1,121.5 225.7,123.0 226.2,123.8 226.9,122.4 227.5,122.0 228.2,121.0 228.8,120.6 229.4,119.0 231.0,118.2 231.6,116.7 232.2,116.2 233.0,118.0 233.8,117.7 234.6,116.6 235.4,117.8 236.2,119.0 236.8,120.5 237.4,121.0 237.7,122.3 237.9,122.6 238.2,124.6 238.5,125.0 238.6,126.0 238.7,126.3 238.8,127.3 239.0,129.0 239.1,129.9 239.2,130.7 239.3,132.0 239.4,132.5 239.4,133.8 239.5,134.7 239.6,136.5 239.6,136.3 239.7,138.4 239.7,139.5 239.8,140.0 240.0,140.5 240.1,142.6 240.2,143.3 240.4,144.6 240.6,144.7 240.7,145.8 240.8,146.9 241.0,148.0" fill="none" stroke="#000" stroke-width="2.2" stroke-linejoin="round"/>
<polyline points="242.0,169.0 242.0,170.7 242.1,171.1 242.1,171.8 242.1,172.9 242.2,173.7 242.2,174.4 242.3,175.4 242.3,177.5 242.3,177.7 242.4,179.6 242.4,180.0 242.4,180.6 242.5,181.7 242.5,183.0 242.5,183.6 242.6,184.8 242.6,186.0 243.4,187.3 244.2,187.9 245.0,188.0 246.0,189.1 247.0,189.5 248.0,190.0 249.0,190.2 250.0,190.0 251.0,189.0 252.0,189.6 253.0,190.0 253.5,191.2 254.0,191.2 254.5,193.0 255.0,193.6 255.5,194.6 256.0,196.2 256.5,197.1 257.0,198.0 257.4,196.7 257.8,195.4 258.2,195.6 258.6,193.5 259.0,193.0 259.8,193.7 260.5,194.3 261.2,195.0 262.0,196.0 263.0,195.3 264.0,194.0 265.0,195.2 266.0,195.0 267.0,195.2 268.0,196.0 268.2,195.2 268.3,193.7 268.5,193.1 268.7,191.9 268.8,190.5 269.0,190.0 269.1,188.5 269.3,187.6 269.4,187.6 269.6,186.0 269.7,184.6 269.9,184.6 270.0,183.0 271.0,182.7 272.0,181.0 273.0,181.3 274.0,181.2 275.0,182.0 276.0,180.6 277.0,180.0 277.4,180.4 277.8,181.8 278.2,182.4 278.6,183.6 279.0,185.0 279.1,185.7 279.1,187.1 279.2,188.5 279.3,189.3 279.3,189.9 279.4,190.9 279.5,192.0 279.5,192.8 279.6,193.8 279.7,194.4 279.7,195.7 279.8,197.7 279.9,197.5 279.9,199.0 280.0,200.0 280.1,201.2 280.1,202.5 280.1,202.6 280.2,203.7 280.2,204.6 280.3,205.9 280.4,206.9 280.4,208.6 280.4,209.5 280.5,210.0 280.6,209.5 280.7,207.3 280.8,206.3 280.9,206.3 281.0,205.6 281.1,204.0 281.2,203.1 281.3,201.3 281.4,200.8 281.5,200.6 281.6,199.5 281.7,198.5 281.8,197.7 281.9,195.6 282.0,195.0" fill="none" stroke="#000" stroke-width="2.2" stroke-linejoin="round"/>
<polyline points="323.5,48.0 323.6,48.5 323.8,49.5 323.9,51.0 324.0,52.0 325.0,53.0 325.4,52.2 325.9,51.5 326.3,50.1 326.7,48.9 327.2,48.0 327.6,46.6 327.9,47.6 328.2,48.8 328.4,49.2 328.7,51.3 329.0,52.0 329.5,52.6 330.0,54.6 330.5,55.2 331.0,56.0 331.2,56.9 331.4,57.8 331.6,59.2 331.8,60.7" fill="none" stroke="#000" stroke-width="2.3" stroke-linejoin="round"/>
<polyline points="343.6,191.7 343.8,192.9 344.0,194.0 344.2,194.2 344.4,195.2 344.6,196.9 344.8,198.0 345.0,198.8 345.2,199.6 345.4,201.1 345.6,202.0 345.7,202.4 345.8,203.8 346.0,205.1 346.1,206.9 346.2,207.5 346.3,208.9 346.4,209.4 346.6,210.1 346.7,211.2 346.8,212.6 347.0,212.2 347.3,210.9 347.5,209.3 347.8,207.9 348.0,207.6 348.3,206.8 348.5,205.6 348.8,204.3 349.1,202.9 349.4,202.3 349.7,200.9 350.3,200.7 350.9,198.9 351.5,198.5 352.1,198.7 352.6,200.0 353.2,201.0 353.8,202.0 354.4,201.1 355.0,199.2 355.6,198.5 355.7,197.9 355.7,196.8 355.8,195.5 355.8,194.1 355.9,194.2 356.0,192.2 356.0,191.9 356.1,190.1 356.1,189.1 356.2,188.5 356.6,187.8 357.0,186.1 357.4,186.0 357.7,184.4 358.1,182.9 358.5,182.3 359.0,181.0 359.5,180.3 359.9,179.7 360.4,179.1 360.9,177.5 362.0,176.3 363.2,176.0 364.0,176.9 364.8,177.7 365.6,179.1 366.8,180.6 367.9,180.7 368.2,181.2 368.5,182.7 368.8,183.1 369.2,184.1 369.5,185.5 369.9,187.2 370.2,188.2 370.5,189.0 370.9,190.3 371.2,190.6 371.5,192.2 371.8,192.4 372.1,193.3 372.4,195.3 372.7,196.1 373.0,196.8 373.2,197.2 373.4,199.2 373.6,199.9 373.8,200.9 373.9,202.0 374.1,202.8 374.3,203.6 374.5,205.1 374.7,206.5 374.9,207.3 375.0,209.2 375.1,209.1 375.3,211.3 375.5,211.3 375.6,212.7 376.5,212.9 377.4,213.6 377.6,213.0 377.9,212.0 378.1,210.5 378.4,208.9 378.6,208.5 378.9,207.3 379.1,206.5 380.0,206.2 380.9,204.7 381.2,205.3 381.5,206.6 381.8,208.4 382.1,208.2 382.4,209.7 382.7,210.9 382.9,210.3 383.0,209.2 383.2,207.1 383.4,206.0 383.5,205.0 383.7,205.1 383.9,203.1 384.1,202.8 384.2,201.9 384.4,200.3 385.0,199.2 385.6,198.2 386.2,197.7 387.1,199.2 388.0,199.4 388.4,198.5 388.9,196.9 389.3,196.4 389.7,195.0 390.6,193.9 391.5,193.3 391.9,192.1 392.4,190.8 392.9,191.0 393.3,189.7 395.0,188.8 395.9,190.3 396.8,190.6 397.2,191.8 397.5,193.3 397.9,193.1 398.2,194.5 398.6,195.9 398.8,196.9 399.1,198.6 399.3,199.6 399.6,199.8 399.8,200.6 400.1,201.9 400.3,203.0 400.5,201.9 400.7,201.5 400.8,199.4 401.0,199.2 401.2,197.7 401.3,197.0 401.5,196.1 401.6,195.0 401.8,193.7 401.9,192.3 402.1,191.2 402.2,190.3 402.4,189.8 402.6,187.8 402.7,186.9 402.9,186.7 403.0,185.3 403.2,186.0 403.4,186.9 403.7,187.9 403.9,189.8 404.1,190.6 404.4,192.6 404.6,193.5 404.8,194.1 404.9,195.9 405.0,196.0 405.1,196.9 405.2,198.0 405.3,199.7 405.4,201.1 405.5,201.8 405.6,203.0 405.8,203.6 406.1,204.9 406.3,206.1 406.5,207.2 406.7,208.3 406.9,209.4 407.2,210.1 407.4,210.9 407.8,211.5 408.3,213.6 408.8,213.9 409.2,215.3 409.8,214.2 410.3,212.8 410.9,211.8 411.4,211.0 411.9,209.2 412.3,208.1 412.8,207.4 413.5,206.0 414.1,204.9 414.8,204.4 415.8,205.4 416.8,205.4 417.8,205.0 418.7,204.4 419.7,205.2 420.7,206.4 421.0,207.2 421.2,209.0 421.5,209.3 421.8,209.9 422.1,211.7 422.3,212.4 422.6,213.2 422.7,215.0 422.9,214.8 423.0,216.5 423.1,218.0 423.2,219.2 423.4,220.4 423.5,220.3 423.6,222.0 423.7,220.6 423.8,219.3 423.9,218.3 424.0,218.4 424.2,216.7 424.3,216.1 424.4,214.3 424.5,213.9 424.6,212.3 424.7,211.1 424.8,209.8 424.9,209.4 425.0,208.6 425.2,206.3 425.3,205.9 425.4,204.8 425.5,203.2 425.6,202.5 425.8,201.3 426.0,200.0 426.2,199.1 426.4,198.2 426.6,197.7 426.7,196.8 426.9,195.2 427.1,193.9 427.3,193.3 427.5,192.6 427.8,191.9 428.1,190.2 428.4,189.4 428.6,188.3 428.9,188.2 429.2,186.8 429.5,185.8 430.2,184.2 430.8,183.2 431.5,182.8 432.4,183.7 433.4,184.8 433.6,185.8 433.9,186.9 434.1,187.2 434.4,188.2 434.6,189.9 434.9,190.5 435.1,191.3 435.4,192.6 435.6,193.3 435.9,195.2 436.1,195.3 436.4,196.6 436.6,197.3 436.9,198.4 437.1,200.0 437.4,200.5 437.6,202.3 437.8,202.5 438.0,203.3 438.2,205.2 438.4,205.5 438.6,207.0 438.8,207.4 439.0,209.8 439.1,210.3 439.3,211.5 439.5,210.8 439.7,209.2 439.8,208.7 440.0,207.0 440.2,206.0 441.3,204.4 442.2,203.0 443.2,202.5 444.2,201.8 445.2,202.5 446.2,201.6 447.2,200.5 448.1,200.2 449.1,199.5 449.8,199.3 450.5,198.0" fill="none" stroke="#000" stroke-width="2.2" stroke-linejoin="round"/>
<polyline points="455.6,217.5 455.7,215.8 455.7,215.4 455.8,213.9 455.8,213.0 455.9,212.0 456.0,210.5 456.2,209.7 456.3,209.0 456.4,208.0 456.6,207.6 456.8,205.5 457.1,205.0 457.3,204.4 457.5,203.0 457.9,202.5 458.2,200.3 458.6,199.1 459.0,198.5 459.3,198.1 459.6,197.2 459.9,195.5 460.2,194.5 460.4,192.7 460.7,192.8 460.9,191.0 461.2,190.0 461.4,189.4 461.6,187.9 461.8,187.1 462.0,185.5 462.2,183.9 462.4,183.7 462.6,181.7 462.8,181.0" fill="none" stroke="#000" stroke-width="2.0" stroke-linejoin="round"/>
<polyline points="314.4,163.7 316.0,135.0 317.0,120.0 318.0,110.0 319.9,95.0" fill="none" stroke="#000" stroke-width="1.5" stroke-linejoin="round"/>
<polyline points="200.3,75.6 200.7,80.2" fill="none" stroke="#1597df" stroke-width="1.60" stroke-linejoin="round" stroke-linecap="round" />
<polyline points="241.0,148.6 241.1,150.0" fill="none" stroke="#1597df" stroke-width="1.50" stroke-linejoin="round" stroke-linecap="round" />
<polyline points="462.6,184.2 463.2,180.0" fill="none" stroke="#1597df" stroke-width="1.40" stroke-linejoin="round" stroke-linecap="round" />
<polyline points="387.5,197.5 389.5,192.0 391.5,196.0 393.5,191.5 395.5,194.5 397.5,192.5" fill="none" stroke="#000" stroke-width="1.40" stroke-linejoin="round" stroke-linecap="round" />
<polyline points="440.5,203.5 443.0,203.8 446.0,202.6 449.0,201.8 451.0,200.5" fill="none" stroke="#1597df" stroke-width="4.00" stroke-linejoin="round" stroke-linecap="round" />
<polyline points="438.5,199.0 440.0,202.0 441.5,199.5 443.0,204.5 444.5,200.0 446.0,203.5 447.5,199.5 449.0,202.5 450.5,199.0" fill="none" stroke="#000" stroke-width="1.30" stroke-linejoin="round" stroke-linecap="round" />
<polyline points="347.5,199.0 350.5,203.0 353.0,196.5 355.0,201.0" fill="none" stroke="#000" stroke-width="1.20" stroke-linejoin="round" stroke-linecap="round" />
<polyline points="296,196.5 300,197.5 305,197 309,197.8 311,197" fill="none" stroke="#000" stroke-width="1.2"/>
<polyline points="322.8,47 323.6,51 325,53.5" fill="none" stroke="#000" stroke-width="1.8"/>
<rect x="240.3" y="150.7" width="1.3" height="1.6" fill="#000"/>
<rect x="240.3" y="154.2" width="1.3" height="1.6" fill="#000"/>
<rect x="321.4" y="62.2" width="1.3" height="1.6" fill="#000"/>
<rect x="333.4" y="86.7" width="1.3" height="1.6" fill="#000"/>
<rect x="333.4" y="89.2" width="1.3" height="1.6" fill="#000"/>
<rect x="449.5" y="178.2" width="1.3" height="1.6" fill="#000"/>
<rect x="451.9" y="181.7" width="1.3" height="1.6" fill="#000"/>
<rect x="452.2" y="184.2" width="1.3" height="1.6" fill="#000"/>
<rect x="241.3" y="163.2" width="1.3" height="1.6" fill="#000"/>
<rect x="311.7" y="180.7" width="1.3" height="1.6" fill="#000"/>
<polyline points="320.8,68.4 320.6,72.2" fill="none" stroke="#000" stroke-width="1.4"/>
</g>
<rect x="38.20" y="37.50" width="105.20" height="187.70" fill="none" stroke="#808080" stroke-width="1.1"/>
<rect x="182.50" y="37.30" width="286.10" height="187.70" fill="none" stroke="#808080" stroke-width="1.1"/>
<line x1="35.90" y1="225.20" x2="38.20" y2="225.20" stroke="#808080" stroke-width="1.00"/>
<line x1="35.90" y1="201.74" x2="38.20" y2="201.74" stroke="#808080" stroke-width="1.00"/>
<line x1="35.90" y1="178.27" x2="38.20" y2="178.27" stroke="#808080" stroke-width="1.00"/>
<line x1="35.90" y1="154.81" x2="38.20" y2="154.81" stroke="#808080" stroke-width="1.00"/>
<line x1="35.90" y1="131.35" x2="38.20" y2="131.35" stroke="#808080" stroke-width="1.00"/>
<line x1="35.90" y1="107.89" x2="38.20" y2="107.89" stroke="#808080" stroke-width="1.00"/>
<line x1="35.90" y1="84.42" x2="38.20" y2="84.42" stroke="#808080" stroke-width="1.00"/>
<line x1="35.90" y1="60.96" x2="38.20" y2="60.96" stroke="#808080" stroke-width="1.00"/>
<line x1="35.90" y1="37.50" x2="38.20" y2="37.50" stroke="#808080" stroke-width="1.00"/>
<line x1="38.20" y1="225.20" x2="38.20" y2="227.50" stroke="#808080" stroke-width="1.00"/>
<line x1="53.53" y1="225.20" x2="53.53" y2="227.50" stroke="#808080" stroke-width="1.00"/>
<line x1="74.32" y1="225.20" x2="74.32" y2="227.50" stroke="#808080" stroke-width="1.00"/>
<line x1="95.12" y1="225.20" x2="95.12" y2="227.50" stroke="#808080" stroke-width="1.00"/>
<line x1="122.60" y1="225.20" x2="122.60" y2="227.50" stroke="#808080" stroke-width="1.00"/>
<line x1="143.40" y1="225.20" x2="143.40" y2="227.50" stroke="#808080" stroke-width="1.00"/>
<line x1="46.83" y1="225.20" x2="46.83" y2="226.50" stroke="#808080" stroke-width="0.80"/>
<line x1="59.00" y1="225.20" x2="59.00" y2="226.50" stroke="#808080" stroke-width="0.80"/>
<line x1="63.62" y1="225.20" x2="63.62" y2="226.50" stroke="#808080" stroke-width="0.80"/>
<line x1="67.63" y1="225.20" x2="67.63" y2="226.50" stroke="#808080" stroke-width="0.80"/>
<line x1="71.16" y1="225.20" x2="71.16" y2="226.50" stroke="#808080" stroke-width="0.80"/>
<line x1="107.28" y1="225.20" x2="107.28" y2="226.50" stroke="#808080" stroke-width="0.80"/>
<line x1="115.91" y1="225.20" x2="115.91" y2="226.50" stroke="#808080" stroke-width="0.80"/>
<line x1="128.07" y1="225.20" x2="128.07" y2="226.50" stroke="#808080" stroke-width="0.80"/>
<line x1="132.70" y1="225.20" x2="132.70" y2="226.50" stroke="#808080" stroke-width="0.80"/>
<line x1="136.71" y1="225.20" x2="136.71" y2="226.50" stroke="#808080" stroke-width="0.80"/>
<line x1="140.24" y1="225.20" x2="140.24" y2="226.50" stroke="#808080" stroke-width="0.80"/>
<line x1="180.20" y1="225.00" x2="182.50" y2="225.00" stroke="#808080" stroke-width="1.00"/>
<line x1="180.20" y1="197.66" x2="182.50" y2="197.66" stroke="#808080" stroke-width="1.00"/>
<line x1="180.20" y1="160.55" x2="182.50" y2="160.55" stroke="#808080" stroke-width="1.00"/>
<line x1="180.20" y1="123.45" x2="182.50" y2="123.45" stroke="#808080" stroke-width="1.00"/>
<line x1="180.20" y1="74.40" x2="182.50" y2="74.40" stroke="#808080" stroke-width="1.00"/>
<line x1="180.20" y1="37.30" x2="182.50" y2="37.30" stroke="#808080" stroke-width="1.00"/>
<line x1="181.20" y1="209.60" x2="182.50" y2="209.60" stroke="#808080" stroke-width="0.80"/>
<line x1="181.20" y1="187.90" x2="182.50" y2="187.90" stroke="#808080" stroke-width="0.80"/>
<line x1="181.20" y1="179.65" x2="182.50" y2="179.65" stroke="#808080" stroke-width="0.80"/>
<line x1="181.20" y1="172.50" x2="182.50" y2="172.50" stroke="#808080" stroke-width="0.80"/>
<line x1="181.20" y1="166.19" x2="182.50" y2="166.19" stroke="#808080" stroke-width="0.80"/>
<line x1="181.20" y1="101.75" x2="182.50" y2="101.75" stroke="#808080" stroke-width="0.80"/>
<line x1="181.20" y1="86.35" x2="182.50" y2="86.35" stroke="#808080" stroke-width="0.80"/>
<line x1="181.20" y1="64.64" x2="182.50" y2="64.64" stroke="#808080" stroke-width="0.80"/>
<line x1="181.20" y1="56.39" x2="182.50" y2="56.39" stroke="#808080" stroke-width="0.80"/>
<line x1="181.20" y1="49.24" x2="182.50" y2="49.24" stroke="#808080" stroke-width="0.80"/>
<line x1="181.20" y1="42.94" x2="182.50" y2="42.94" stroke="#808080" stroke-width="0.80"/>
<line x1="189.50" y1="225.00" x2="189.50" y2="227.30" stroke="#808080" stroke-width="1.00"/>
<line x1="225.31" y1="225.00" x2="225.31" y2="227.30" stroke="#808080" stroke-width="1.00"/>
<line x1="261.13" y1="225.00" x2="261.13" y2="227.30" stroke="#808080" stroke-width="1.00"/>
<line x1="296.94" y1="225.00" x2="296.94" y2="227.30" stroke="#808080" stroke-width="1.00"/>
<line x1="332.76" y1="225.00" x2="332.76" y2="227.30" stroke="#808080" stroke-width="1.00"/>
<line x1="368.57" y1="225.00" x2="368.57" y2="227.30" stroke="#808080" stroke-width="1.00"/>
<line x1="404.39" y1="225.00" x2="404.39" y2="227.30" stroke="#808080" stroke-width="1.00"/>
<line x1="440.20" y1="225.00" x2="440.20" y2="227.30" stroke="#808080" stroke-width="1.00"/>
<line x1="468.60" y1="217.30" x2="470.40" y2="217.30" stroke="#0f800f" stroke-width="0.90"/>
<line x1="468.60" y1="181.30" x2="470.40" y2="181.30" stroke="#0f800f" stroke-width="0.90"/>
<line x1="468.60" y1="145.30" x2="470.40" y2="145.30" stroke="#0f800f" stroke-width="0.90"/>
<line x1="468.60" y1="109.30" x2="470.40" y2="109.30" stroke="#0f800f" stroke-width="0.90"/>
<line x1="468.60" y1="73.30" x2="470.40" y2="73.30" stroke="#0f800f" stroke-width="0.90"/>
<line x1="468.60" y1="37.30" x2="470.40" y2="37.30" stroke="#0f800f" stroke-width="0.90"/>
<text transform="translate(34.50,229.10) scale(1.070,1)" font-size="10.00" text-anchor="end" fill="#000" font-family="Liberation Sans, sans-serif">360</text>
<text transform="translate(34.50,205.64) scale(1.070,1)" font-size="10.00" text-anchor="end" fill="#000" font-family="Liberation Sans, sans-serif">370</text>
<text transform="translate(34.50,182.17) scale(1.070,1)" font-size="10.00" text-anchor="end" fill="#000" font-family="Liberation Sans, sans-serif">380</text>
<text transform="translate(34.50,158.71) scale(1.070,1)" font-size="10.00" text-anchor="end" fill="#000" font-family="Liberation Sans, sans-serif">390</text>
<text transform="translate(34.50,135.25) scale(1.070,1)" font-size="10.00" text-anchor="end" fill="#000" font-family="Liberation Sans, sans-serif">400</text>
<text transform="translate(34.50,111.79) scale(1.070,1)" font-size="10.00" text-anchor="end" fill="#000" font-family="Liberation Sans, sans-serif">410</text>
<text transform="translate(34.50,88.32) scale(1.070,1)" font-size="10.00" text-anchor="end" fill="#000" font-family="Liberation Sans, sans-serif">420</text>
<text transform="translate(34.50,64.86) scale(1.070,1)" font-size="10.00" text-anchor="end" fill="#000" font-family="Liberation Sans, sans-serif">430</text>
<text transform="translate(34.50,41.40) scale(1.070,1)" font-size="10.00" text-anchor="end" fill="#000" font-family="Liberation Sans, sans-serif">440</text>
<text transform="translate(38.20,235.90) scale(1.070,1)" font-size="10.00" text-anchor="middle" fill="#000" font-family="Liberation Sans, sans-serif">3</text>
<text transform="translate(53.53,235.90) scale(1.070,1)" font-size="10.00" text-anchor="middle" fill="#000" font-family="Liberation Sans, sans-serif">5</text>
<text transform="translate(74.32,235.90) scale(1.070,1)" font-size="10.00" text-anchor="middle" fill="#000" font-family="Liberation Sans, sans-serif">10</text>
<text transform="translate(95.12,235.90) scale(1.070,1)" font-size="10.00" text-anchor="middle" fill="#000" font-family="Liberation Sans, sans-serif">20</text>
<text transform="translate(122.60,235.90) scale(1.070,1)" font-size="10.00" text-anchor="middle" fill="#000" font-family="Liberation Sans, sans-serif">50</text>
<text transform="translate(143.40,235.90) scale(1.070,1)" font-size="10.00" text-anchor="middle" fill="#000" font-family="Liberation Sans, sans-serif">100</text>
<text transform="translate(179.00,228.90) scale(1.070,1)" font-size="10.00" text-anchor="end" fill="#000" font-family="Liberation Sans, sans-serif">3</text>
<text transform="translate(179.00,201.56) scale(1.070,1)" font-size="10.00" text-anchor="end" fill="#000" font-family="Liberation Sans, sans-serif">5</text>
<text transform="translate(179.00,164.45) scale(1.070,1)" font-size="10.00" text-anchor="end" fill="#000" font-family="Liberation Sans, sans-serif">10</text>
<text transform="translate(179.00,127.35) scale(1.070,1)" font-size="10.00" text-anchor="end" fill="#000" font-family="Liberation Sans, sans-serif">20</text>
<text transform="translate(179.00,78.30) scale(1.070,1)" font-size="10.00" text-anchor="end" fill="#000" font-family="Liberation Sans, sans-serif">50</text>
<text transform="translate(179.00,41.20) scale(1.070,1)" font-size="10.00" text-anchor="end" fill="#000" font-family="Liberation Sans, sans-serif">100</text>
<text transform="translate(189.50,235.90) scale(1.070,1)" font-size="10.00" text-anchor="middle" fill="#000" font-family="Liberation Sans, sans-serif">10:15</text>
<text transform="translate(225.31,235.90) scale(1.070,1)" font-size="10.00" text-anchor="middle" fill="#000" font-family="Liberation Sans, sans-serif">10:30</text>
<text transform="translate(261.13,235.90) scale(1.070,1)" font-size="10.00" text-anchor="middle" fill="#000" font-family="Liberation Sans, sans-serif">10:45</text>
<text transform="translate(296.94,235.90) scale(1.070,1)" font-size="10.00" text-anchor="middle" fill="#000" font-family="Liberation Sans, sans-serif">11:00</text>
<text transform="translate(332.76,235.90) scale(1.070,1)" font-size="10.00" text-anchor="middle" fill="#000" font-family="Liberation Sans, sans-serif">11:15</text>
<text transform="translate(368.57,235.90) scale(1.070,1)" font-size="10.00" text-anchor="middle" fill="#000" font-family="Liberation Sans, sans-serif">11:30</text>
<text transform="translate(404.39,235.90) scale(1.070,1)" font-size="10.00" text-anchor="middle" fill="#000" font-family="Liberation Sans, sans-serif">11:45</text>
<text transform="translate(440.20,235.90) scale(1.070,1)" font-size="10.00" text-anchor="middle" fill="#000" font-family="Liberation Sans, sans-serif">12:00</text>
<text transform="translate(472.30,221.20) scale(1.070,1)" font-size="10.00" text-anchor="start" fill="#0f800f" font-family="Liberation Sans, sans-serif">10</text>
<text transform="translate(472.30,185.20) scale(1.070,1)" font-size="10.00" text-anchor="start" fill="#0f800f" font-family="Liberation Sans, sans-serif">12</text>
<text transform="translate(472.30,149.20) scale(1.070,1)" font-size="10.00" text-anchor="start" fill="#0f800f" font-family="Liberation Sans, sans-serif">14</text>
<text transform="translate(472.30,113.20) scale(1.070,1)" font-size="10.00" text-anchor="start" fill="#0f800f" font-family="Liberation Sans, sans-serif">16</text>
<text transform="translate(472.30,77.20) scale(1.070,1)" font-size="10.00" text-anchor="start" fill="#0f800f" font-family="Liberation Sans, sans-serif">18</text>
<text transform="translate(472.30,41.20) scale(1.070,1)" font-size="10.00" text-anchor="start" fill="#0f800f" font-family="Liberation Sans, sans-serif">20</text>
<text transform="translate(91.0,247.8) scale(1.100,1)" font-size="10.20" text-anchor="middle" fill="#000" font-family="Liberation Sans, sans-serif">H<tspan font-size="7.4" dy="2.3">2</tspan><tspan dy="-2.3">O (ppmv)</tspan></text>
<text transform="translate(325.3,247.8) scale(1.075,1)" font-size="10.20" text-anchor="middle" fill="#000" font-family="Liberation Sans, sans-serif">Kathmandu Local Time</text>
<text transform="translate(12.6,131.3) rotate(-90) scale(1.110,1)" font-size="10.20" text-anchor="middle" fill="#000" font-family="Liberation Sans, sans-serif">Potential Temperature (K)</text>
<text transform="translate(157.1,130.8) rotate(-90) scale(1.090,1)" font-size="10.20" text-anchor="middle" fill="#000" font-family="Liberation Sans, sans-serif">H<tspan font-size="7.4" dy="2.3">2</tspan><tspan dy="-2.3">O (ppmv)</tspan></text>
<text transform="translate(494.0,131.4) rotate(-90) scale(1.130,1)" font-size="10.20" text-anchor="middle" fill="#0f800f" font-family="Liberation Sans, sans-serif">Altitude (km)</text>
<text transform="translate(38.6,34.1) scale(1.12,1)" font-size="12.4" font-weight="bold" fill="#000" font-family="Liberation Sans, sans-serif">a</text>
<text transform="translate(182.6,34.5) scale(1.12,1)" font-size="12.4" font-weight="bold" fill="#000" font-family="Liberation Sans, sans-serif">b</text>
<text x="246.5" y="14.2" font-size="12.6" text-anchor="middle" fill="#000" font-family="Liberation Sans, sans-serif" letter-spacing="0.3">Flight 7</text>
<rect x="67.6" y="41.6" width="72.6" height="32.4" rx="1.5" fill="#fff" fill-opacity="0.85" stroke="#e0e0e0" stroke-width="0.8"/>
<circle cx="77.8" cy="47.2" r="2.0" fill="#f50c4c"/>
<text x="85.7" y="49.9" font-size="7.6" text-anchor="start" fill="#000" font-family="Liberation Sans, sans-serif" letter-spacing="0.08">clear-sky FISH</text>
<circle cx="77.8" cy="57.2" r="2.0" fill="#1597df"/>
<text x="85.7" y="59.9" font-size="7.6" text-anchor="start" fill="#000" font-family="Liberation Sans, sans-serif" letter-spacing="0.08">FLASH</text>
<circle cx="77.8" cy="67.0" r="2.0" fill="#000"/>
<text x="85.7" y="69.7" font-size="7.6" text-anchor="start" fill="#000" font-family="Liberation Sans, sans-serif" letter-spacing="0.08">ChiWIS</text></svg>
</body></html>
